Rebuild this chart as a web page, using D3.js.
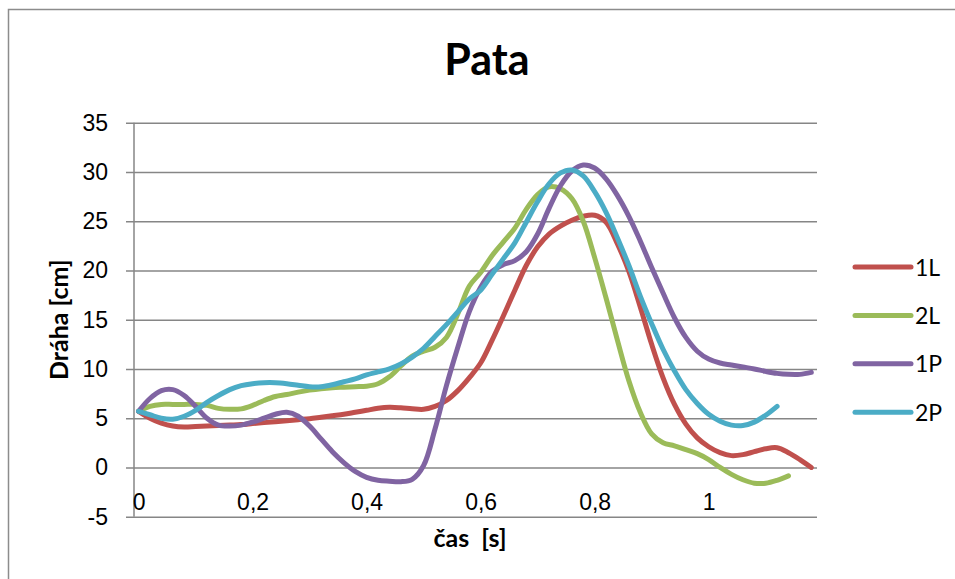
<script src="https://cdnjs.cloudflare.com/ajax/libs/d3/7.8.5/d3.min.js"></script>

<style>
    body {margin: 0; background: #fff;}
    #chart {font-family: "Lato", "Open Sans", sans-serif; color: #000;}
    .grid line {stroke: #868686; stroke-width: 1.5px;}
    .grid text, .x-axis text {font-size: 23px; fill: #000;}
    .x-axis path {display: none;}
    .series {fill: none; stroke-width: 5px; stroke-linejoin: round; stroke-linecap: round;}
</style>

<div id="chart"></div>

<script>
    // time in s, step 0.02
    let times = d3.range(60).map(i => +(i * 0.02).toFixed(2));

    let names = ["1L", "2L", "1P", "2P"];
    let colors = ["#c0504d", "#9bbb59", "#8064a2", "#4bacc6"];

    let s1L = [5.7, 5.0, 4.5, 4.2, 4.1, 4.15, 4.2, 4.25, 4.3, 4.35, 4.45, 4.55, 4.65, 4.75, 4.85, 4.95, 5.1, 5.25, 5.4, 5.6,
        5.8, 6.0, 6.1, 6.05, 5.95, 5.9, 6.2, 6.8, 7.8, 9.1, 10.6, 12.9, 15.4, 18.0, 20.5, 22.4, 23.7, 24.5, 25.1, 25.5,
        25.6, 24.9, 22.7, 19.9, 16.3, 12.5, 9.1, 6.4, 4.4, 3.0, 2.1, 1.5, 1.2, 1.3, 1.6, 1.9, 2.0, 1.5, 0.8, 0.0];
    let s2L = [5.7, 6.2, 6.4, 6.4, 6.4, 6.4, 6.3, 6.0, 5.9, 5.95, 6.3, 6.8, 7.2, 7.4, 7.65, 7.85, 8.0, 8.1, 8.15, 8.2,
        8.25, 8.5, 9.2, 10.3, 11.3, 11.8, 12.2, 13.2, 15.6, 18.4, 19.8, 21.5, 22.9, 24.3, 26.2, 27.7, 28.5, 28.3, 27.3, 25.0,
        21.3, 17.2, 12.9, 8.8, 5.6, 3.4, 2.5, 2.2, 1.8, 1.4, 0.8, 0.0, -0.7, -1.25, -1.6, -1.6, -1.3, -0.85];
    let s1P = [5.7, 7.0, 7.8, 7.9, 7.3, 6.2, 5.0, 4.3, 4.2, 4.3, 4.6, 5.0, 5.4, 5.6, 5.2, 4.2, 2.9, 1.6, 0.5, -0.4,
        -1.0, -1.3, -1.4, -1.45, -1.2, 0.2, 3.9, 8.3, 12.2, 15.8, 18.3, 19.9, 20.6, 21.0, 21.9, 23.7, 26.3, 28.6, 30.1, 30.7,
        30.4, 29.3, 27.6, 25.5, 23.0, 20.3, 17.7, 15.2, 13.2, 11.8, 11.0, 10.6, 10.4, 10.2, 10.0, 9.75, 9.55, 9.45, 9.45, 9.65];
    let s2P = [5.7, 5.35, 5.0, 4.9, 5.2, 5.8, 6.6, 7.3, 7.9, 8.3, 8.5, 8.6, 8.6, 8.5, 8.35, 8.2, 8.2, 8.4, 8.7, 9.0,
        9.4, 9.7, 10.0, 10.5, 11.2, 12.1, 13.3, 14.5, 15.8, 17.1, 18.0, 19.6, 21.2, 22.8, 24.9, 27.0, 28.8, 29.9, 30.2, 29.6,
        28.0, 25.9, 23.3, 20.5, 17.4, 14.6, 12.0, 9.8, 7.9, 6.5, 5.4, 4.7, 4.3, 4.25, 4.6, 5.3, 6.2];

    let yTicks = [-5, 0, 5, 10, 15, 20, 25, 30, 35];
    let xTicks = [0, 0.2, 0.4, 0.6, 0.8, 1];

    let seriesValues = [s1L, s2L, s1P, s2P];

    let width = 955, height = 579;
    let plot = {left: 134, right: 817, top: 122.7, bottom: 516.7};

    let x = d3.scaleLinear().domain([-0.008, 1.19]).range([plot.left, plot.right]);
    let y = d3.scaleLinear().domain([-5, 35]).range([plot.bottom, plot.top]);

    let svg = d3.select("#chart").append("svg")
        .attr("width", width)
        .attr("height", height);

    // chart area border (left and top visible)
    svg.append("path")
        .attr("d", "M8.5,579V9.5H955")
        .attr("fill", "none")
        .attr("stroke", "#8c8c8c")
        .attr("stroke-width", 1.5);

    svg.append("text")
        .attr("x", 487)
        .attr("y", 75)
        .attr("text-anchor", "middle")
        .style("font-size", "43px")
        .style("font-weight", "bold")
        .text("Pata");

    // y axis + gridlines
    svg.append("g")
        .attr("class", "grid")
        .attr("transform", "translate(126,0)")
        .call(d3.axisLeft(y).tickValues(yTicks).tickSize(-(plot.right - 126)).tickPadding(18)
            .tickFormat(d => String(d)))
        .call(g => g.select(".domain").remove());

    svg.append("line")
        .attr("x1", plot.left).attr("x2", plot.left)
        .attr("y1", plot.top).attr("y2", plot.bottom)
        .attr("stroke", "#868686")
        .attr("stroke-width", 1.5);

    // x axis labels sit under the zero line
    svg.append("g")
        .attr("class", "x-axis")
        .attr("transform", "translate(0," + y(0) + ")")
        .call(d3.axisBottom(x).tickValues(xTicks).tickSize(0).tickPadding(26)
            .tickFormat(d => String(d).replace(".", ",")));

    svg.append("text")
        .attr("transform", "translate(68," + ((plot.top + plot.bottom) / 2) + ") rotate(-90)")
        .attr("text-anchor", "middle")
        .style("font-size", "25px")
        .style("font-weight", "bold")
        .text("Dráha [cm]");

    svg.append("text")
        .attr("x", 470)
        .attr("y", 547)
        .attr("text-anchor", "middle")
        .style("font-size", "25px")
        .style("font-weight", "bold")
        .style("white-space", "pre")
        .text("čas  [s]");

    let line = d3.line()
        .x(d => x(d.t))
        .y(d => y(d.v))
        .curve(d3.curveCatmullRom);

    seriesValues.forEach(function(vals, i) {
        let pts = vals.map((v, j) => ({t: times[j], v: v}));
        svg.append("path")
            .datum(pts)
            .attr("class", "series")
            .attr("stroke", colors[i])
            .attr("d", line);
    });

    // legend
    let legend = svg.append("g").attr("transform", "translate(855,267)");

    names.forEach(function(n, i) {
        let row = legend.append("g").attr("transform", "translate(0," + (i * 48.4) + ")");
        row.append("line")
            .attr("x1", 0).attr("x2", 56)
            .attr("stroke", colors[i])
            .attr("stroke-width", 5)
            .attr("stroke-linecap", "round");
        row.append("text")
            .attr("x", 60)
            .attr("y", 8.5)
            .style("font-size", "23px")
            .text(n);
    });
</script>
